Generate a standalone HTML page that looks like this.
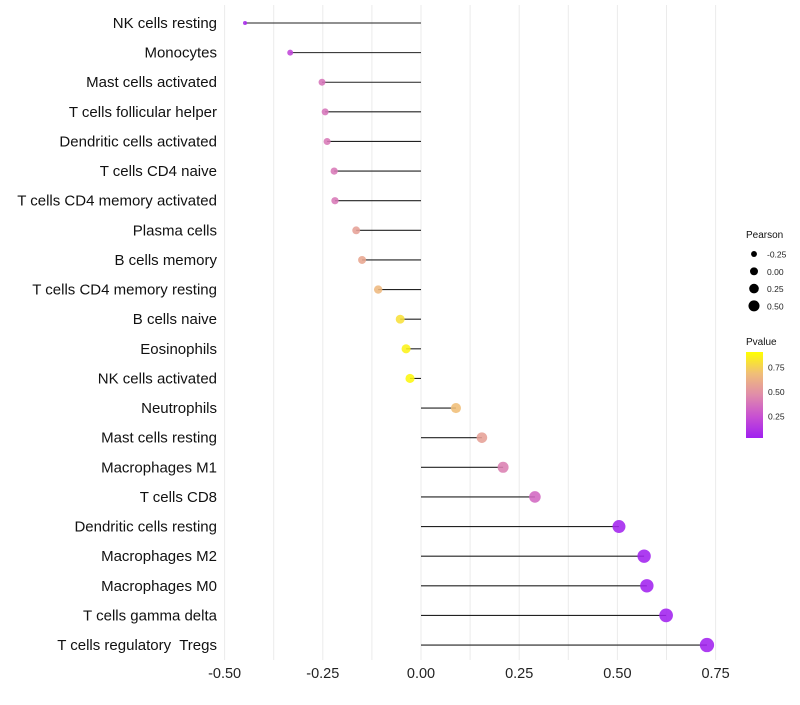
<!DOCTYPE html>
<html><head><meta charset="utf-8"><style>
body{margin:0;background:#fff;font-family:"Liberation Sans",sans-serif;}
svg text{font-family:"Liberation Sans",sans-serif;white-space:pre;}
</style></head><body>
<svg id="chart" width="800" height="700"></svg>
<script>
const categories=["NK cells resting","Monocytes","Mast cells activated","T cells follicular helper","Dendritic cells activated","T cells CD4 naive","T cells CD4 memory activated","Plasma cells","B cells memory","T cells CD4 memory resting","B cells naive","Eosinophils","NK cells activated","Neutrophils","Mast cells resting","Macrophages M1","T cells CD8","Dendritic cells resting","Macrophages M2","Macrophages M0","T cells gamma delta","T cells regulatory  Tregs"];
const pearson=[-0.448,-0.333,-0.252,-0.244,-0.239,-0.221,-0.219,-0.165,-0.150,-0.109,-0.053,-0.038,-0.028,0.089,0.155,0.209,0.290,0.504,0.568,0.575,0.624,0.728];
const pvalue=[0.05,0.2,0.4,0.4,0.42,0.42,0.42,0.6,0.63,0.72,0.88,0.95,0.97,0.75,0.6,0.45,0.35,0.02,0.01,0.01,0.01,0.01];
const xTicks=[-0.5,-0.25,0,0.25,0.5,0.75];
const xTickLabels=["-0.50","-0.25","0.00","0.25","0.50","0.75"];
const sizeLegend=[-0.25,0,0.25,0.5];
const sizeLegendLabels=["-0.25","0.00","0.25","0.50"];
const NS="http://www.w3.org/2000/svg";
const svg=document.getElementById('chart');
function X(v){return 421+v*392.8;}
function Y(i){return 23+i*29.62;}
function R(v){return Math.sqrt(Math.max(2,4+(v+0.45)*40));}
const stops=[[0,[160,32,240]],[0.25,[200,80,210]],[0.5,[224,140,170]],[0.75,[240,190,120]],[1,[255,255,0]]];
function col(p){for(let k=0;k<stops.length-1;k++){const a=stops[k],b=stops[k+1];if(p<=b[0]){const t=(p-a[0])/(b[0]-a[0]);const c=a[1].map((x,j)=>Math.round(x+(b[1][j]-x)*t));return `rgb(${c})`;}}return 'rgb(255,255,0)';}
function el(t,a,txt){const e=document.createElementNS(NS,t);for(const k in a)e.setAttribute(k,a[k]);if(txt!==undefined)e.textContent=txt;svg.appendChild(e);return e;}
for(let v=-0.5;v<=0.751;v+=0.125){const g=el('line',{x1:X(v),x2:X(v),y1:5,y2:660,stroke:'#ebebeb','stroke-width':1});

}
xTicks.forEach((v,i)=>{const t=el('text',{x:X(v),y:678,'text-anchor':'middle','font-size':14.5,fill:'#222'},xTickLabels[i]);

});
categories.forEach((c,i)=>{
const t=el('text',{x:217,y:Y(i)+5,'text-anchor':'end','font-size':15,fill:'#111'},c);


const l=el('line',{x1:X(0),x2:X(pearson[i]),y1:Y(i),y2:Y(i),stroke:'#222','stroke-width':1.1});


const p=el('circle',{cx:X(pearson[i]),cy:Y(i),r:R(pearson[i]),fill:col(pvalue[i]),'fill-opacity':0.88});


});
const lt=el('text',{x:746,y:238,'font-size':10,fill:'#111'},'Pearson');


sizeLegend.forEach((v,i)=>{const y=254+i*17.3;
const c=el('circle',{cx:754,cy:y,r:R(v)*0.85,fill:'#000'});


const t=el('text',{x:767,y:y+3.5,'font-size':8.5,fill:'#222'},sizeLegendLabels[i]);

});
const ct=el('text',{x:746,y:345,'font-size':10,fill:'#111'},'Pvalue');


const defs=el('defs',{});
const grad=document.createElementNS(NS,'linearGradient');grad.setAttribute('id','pg');grad.setAttribute('x1',0);grad.setAttribute('x2',0);grad.setAttribute('y1',1);grad.setAttribute('y2',0);defs.appendChild(grad);
stops.forEach(s=>{const st=document.createElementNS(NS,'stop');st.setAttribute('offset',s[0]);st.setAttribute('stop-color',col(s[0]));grad.appendChild(st);});
const bar=el('rect',{x:746,y:352,width:17,height:86,fill:'url(#pg)'});


[[0.75,'0.75'],[0.5,'0.50'],[0.25,'0.25']].forEach(([v,s])=>{const y=440.5-v*98;
const t=el('text',{x:768,y:y+3.5,'font-size':8.5,fill:'#222'},s);

});
</script>
</body></html>
